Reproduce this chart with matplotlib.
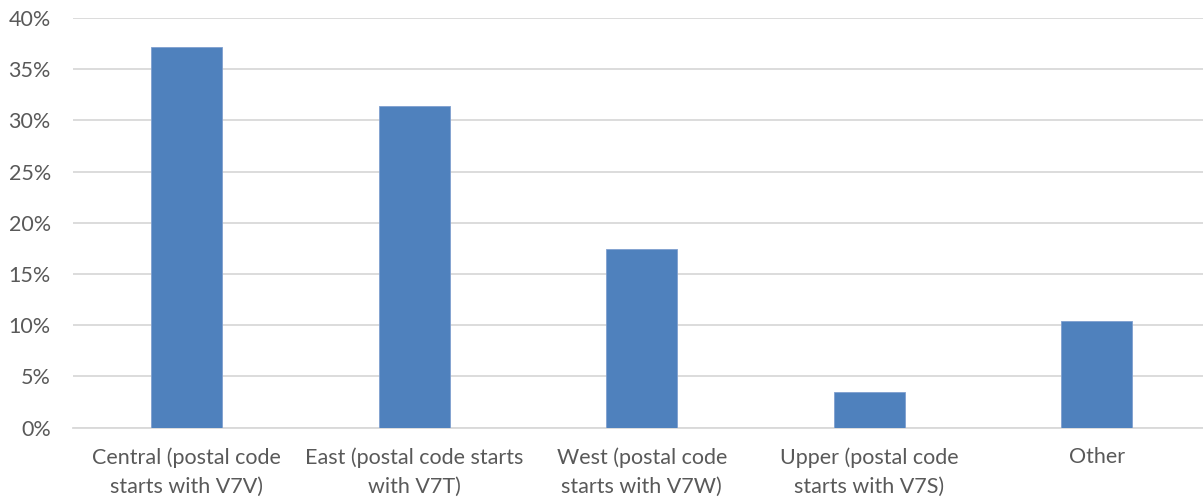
import matplotlib
matplotlib.use("Agg")
import matplotlib.pyplot as plt
from matplotlib.ticker import FuncFormatter, MultipleLocator

categories = [
    "Central (postal code\nstarts with V7V)",
    "East (postal code starts\nwith V7T)",
    "West (postal code\nstarts with V7W)",
    "Upper (postal code\nstarts with V7S)",
    "Other",
]
shares = [37.2, 31.4, 17.4, 3.5, 10.4]

plt.rcParams["font.family"] = ["Lato", "DejaVu Sans"]
text_color = "#595959"

fig = plt.figure(figsize=(12.03, 5.01), dpi=100)
ax = fig.add_axes([0.0607, 0.1463, 0.9456, 0.8177])

x = range(len(categories))
ax.bar(x, shares, width=0.312, color="#4f81bd", edgecolor="#7f9fcf",
       linewidth=0.6, zorder=3)

ax.set_xlim(-0.5, len(categories) - 0.5)
ax.set_ylim(0, 40)
ax.yaxis.set_major_locator(MultipleLocator(5))
ax.yaxis.set_major_formatter(FuncFormatter(lambda v, _: f"{v:.0f}%"))
ax.grid(axis="y", color="#d9d9d9", linewidth=1.3, zorder=0)
ax.set_axisbelow(True)

ax.set_xticks(list(x))
ax.set_xticklabels(categories, fontsize=15.5, color=text_color, linespacing=1.55)
ax.tick_params(axis="x", length=0, pad=14)
ax.tick_params(axis="y", length=0, pad=16, labelsize=15.5, labelcolor=text_color)

for side in ["top", "right", "left"]:
    ax.spines[side].set_visible(False)
ax.spines["bottom"].set_color("#d9d9d9")
ax.spines["bottom"].set_linewidth(1.3)

fig.savefig("out.png", dpi=100)
